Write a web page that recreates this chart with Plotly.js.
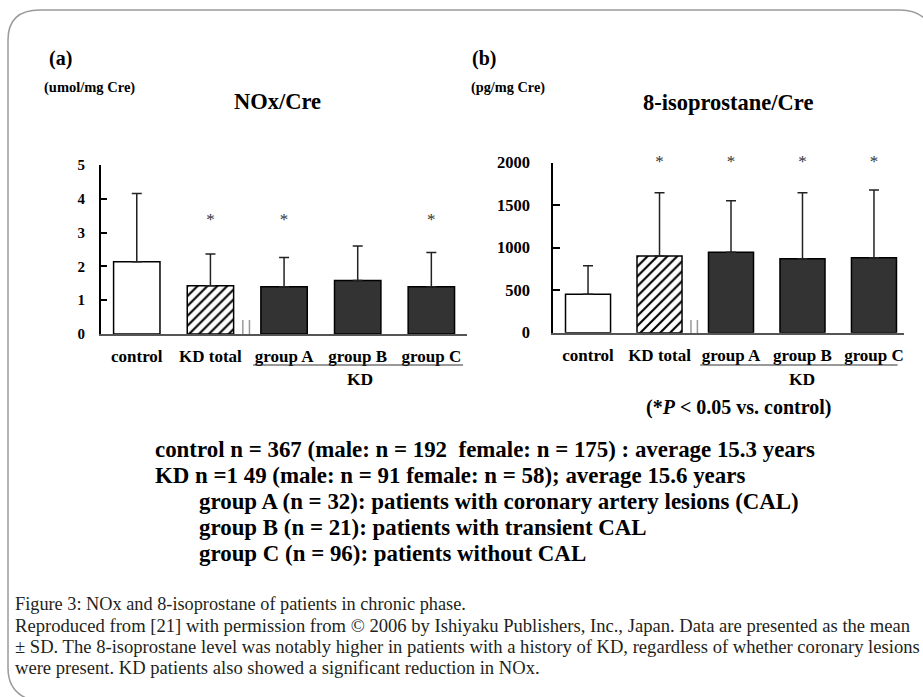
<!DOCTYPE html>
<html>
<head>
<meta charset="utf-8">
<script src="https://cdn.plot.ly/plotly-3.0.1.min.js"></script>
<style>html,body{margin:0;padding:0;background:#fff;}#chart{width:923px;height:697px;}</style>
</head>
<body>
<div id="chart"></div>
<script>
// ---- data ----
var categories = ['control', 'KD total', 'group A', 'group B', 'group C'];
var noxMean = [2.14, 1.43, 1.40, 1.58, 1.40];
var noxSD   = [2.02, 0.94, 0.86, 1.02, 1.01];
var isoMean = [452, 902, 946, 871, 882];
var isoSD   = [336, 745, 607, 776, 797];
var noxSigCats = ['KD total', 'group A', 'group C'];
var noxSigLevel = [3.35, 3.35, 3.35];
var isoSigCats = ['KD total', 'group A', 'group B', 'group C'];
var isoSigLevel = [2000, 2000, 2000, 2000];
var noxTicks = [0, 1, 2, 3, 4, 5];
var isoTicks = [0, 500, 1000, 1500, 2000];

// ---- helpers ----
var W = 923, H = 697;
function px(x) { return x / W; }
function py(y) { return 1 - y / H; }
var serif = 'Liberation Serif';
function zeros(a) { return a.map(function () { return 0; }); }

var styles = [
  { idx: [0], fill: '#ffffff', pattern: '' },
  { idx: [1], fill: '#ffffff', pattern: '/' },
  { idx: [2, 3, 4], fill: '#333333', pattern: '' }
];
function pick(arr, idx) { return idx.map(function (i) { return arr[i]; }); }

var data = [];
function addBars(means, sds, xa, ya) {
  styles.forEach(function (s) {
    var sd = pick(sds, s.idx);
    var m = { color: s.fill, line: { color: '#000', width: 1.5 } };
    if (s.pattern) { m.pattern = { shape: s.pattern, fgcolor: '#000', bgcolor: '#fff', size: 7, solidity: 0.3 }; }
    data.push({
      type: 'bar', x: pick(categories, s.idx), y: pick(means, s.idx), xaxis: xa, yaxis: ya,
      width: 0.63, marker: m,
      error_y: { type: 'data', symmetric: false, array: sd, arrayminus: zeros(sd), color: '#222', thickness: 1.5, width: 5 },
      hoverinfo: 'skip', showlegend: false
    });
  });
}
function sigTrace(cats, levels, xa, ya) {
  return {
    type: 'scatter', mode: 'text', x: cats, y: levels, text: cats.map(function () { return '*'; }),
    textfont: { family: serif, size: 17, color: '#333333' }, textposition: 'middle center',
    xaxis: xa, yaxis: ya, cliponaxis: false, hoverinfo: 'skip', showlegend: false
  };
}
addBars(noxMean, noxSD, 'x', 'y');
addBars(isoMean, isoSD, 'x2', 'y2');
data.push(sigTrace(noxSigCats, noxSigLevel, 'x', 'y'));
data.push(sigTrace(isoSigCats, isoSigLevel, 'x2', 'y2'));

var catFont = { family: serif, size: 17, color: '#000', weight: 'bold' };

function xAxis(domain, range) {
  return {
    domain: domain, range: range, type: 'category', categoryorder: 'array', categoryarray: categories,
    showline: true, linecolor: '#555', linewidth: 1.5,
    ticks: '', showgrid: false, zeroline: false, tickfont: catFont, ticklabelstandoff: 6, fixedrange: true
  };
}
function yAxis(domain, range, ticks, anchor, fsize, standoff) {
  return {
    domain: domain, range: range, anchor: anchor, tickvals: ticks, ticktext: ticks.map(String),
    showline: true, linecolor: '#000', linewidth: 1.5, ticks: 'inside', ticklen: 7, tickwidth: 1.5, tickcolor: '#000',
    showgrid: false, zeroline: false, tickfont: { family: serif, size: fsize, color: '#000', weight: 'bold' },
    ticklabelstandoff: standoff, fixedrange: true
  };
}

var ann = [];
function text(x, y, t, size, opts) {
  var o = {
    xref: 'paper', yref: 'paper', x: px(x), y: py(y), text: t, showarrow: false,
    xanchor: 'left', yanchor: 'middle',
    font: { family: serif, size: size, color: '#000', weight: 'bold' }
  };
  for (var k in (opts || {})) { o[k] = opts[k]; }
  return o;
}
ann.push(text(47, 58, '(a)', 20));
ann.push(text(42, 88, '(umol/mg Cre)', 14.5));
ann.push(text(277, 101, 'NOx/Cre', 22.5, { xanchor: 'center' }));
ann.push(text(470, 58, '(b)', 20));
ann.push(text(469, 88, '(pg/mg Cre)', 14.3));
ann.push(text(728, 103, '8-isoprostane/Cre', 22.5, { xanchor: 'center' }));
ann.push(text(360, 379, 'KD', 17.5, { xanchor: 'center' }));
ann.push(text(802, 379, 'KD', 17.5, { xanchor: 'center' }));
ann.push(text(738, 407, '(*<i>P</i> &lt; 0.05 vs. control)', 20, { xanchor: 'center' }));

var bodyLines = [
  [153, 449, 'control n = 367 (male: n = 192 \u00a0female: n = 175) : average 15.3 years'],
  [153, 475, 'KD n =1 49 (male: n = 91 female: n = 58); average 15.6 years'],
  [197, 501, 'group A (n = 32): patients with coronary artery lesions (CAL)'],
  [197, 527, 'group B (n = 21): patients with transient CAL'],
  [197, 553, 'group C (n = 96): patients without CAL']
];
bodyLines.forEach(function (l) { ann.push(text(l[0], l[1], l[2], 22.9)); });

function cap(x, y, t, size) {
  return text(x, y, t, size, { font: { family: serif, size: size, color: '#231f20' } });
}
ann.push(cap(13, 604, 'Figure 3: NOx and 8-isoprostane of patients in chronic phase.', 18.3));
ann.push(cap(13, 625, 'Reproduced from [21] with permission from © 2006 by Ishiyaku Publishers, Inc., Japan. Data are presented as the mean', 18.6));
ann.push(cap(13, 646, '± SD. The 8-isoprostane level was notably higher in patients with a history of KD, regardless of whether coronary lesions', 18.6));
ann.push(cap(13, 667, 'were present. KD patients also showed a significant reduction in NOx.', 18.6));

var shapes = [];
shapes.push({
  type: 'path', xref: 'paper', yref: 'paper', line: { color: '#9a9a9a', width: 1.5 },
  path: 'M ' + px(40) + ' ' + py(702) + ' Q ' + px(8) + ' ' + py(697) + ' ' + px(8) + ' ' + py(668) +
        ' L ' + px(8) + ' ' + py(40) + ' Q ' + px(8) + ' ' + py(10) + ' ' + px(40) + ' ' + py(10) +
        ' L ' + px(900) + ' ' + py(10) + ' Q ' + px(918) + ' ' + py(10) + ' ' + px(928) + ' ' + py(22)
});
shapes.push({ type: 'line', xref: 'x', yref: 'paper', x0: 1.58, x1: 4.43, y0: py(365), y1: py(365), line: { color: '#333', width: 1 } });
shapes.push({ type: 'line', xref: 'x2', yref: 'paper', x0: 1.57, x1: 4.33, y0: py(365), y1: py(365), line: { color: '#333', width: 1 } });
[1.44, 1.53].forEach(function (b) {
  shapes.push({ type: 'line', xref: 'x', yref: 'paper', x0: b, x1: b, y0: py(334), y1: py(320), line: { color: '#999', width: 1.5 } });
  shapes.push({ type: 'line', xref: 'x2', yref: 'paper', x0: b, x1: b, y0: py(333), y1: py(320), line: { color: '#999', width: 1.5 } });
});

var layout = {
  width: W, height: H, margin: { l: 0, r: 0, t: 0, b: 0 },
  paper_bgcolor: '#fff', plot_bgcolor: 'rgba(0,0,0,0)',
  barmode: 'overlay', showlegend: false,
  xaxis: xAxis([px(100.7), px(466.7)], [-0.49, 4.48]),
  yaxis: yAxis([py(334), py(165)], [0, 5], noxTicks, 'x', 15, 11),
  xaxis2: xAxis([px(553), px(904)], [-0.49, 4.42]),
  yaxis2: yAxis([py(332.7), py(162.7)], [0, 2000], isoTicks, 'x2', 16.5, 18),
  annotations: ann, shapes: shapes
};
layout.xaxis.anchor = 'y';
layout.xaxis2.anchor = 'y2';

Plotly.newPlot('chart', data, layout, { displayModeBar: false });
</script>
</body>
</html>
